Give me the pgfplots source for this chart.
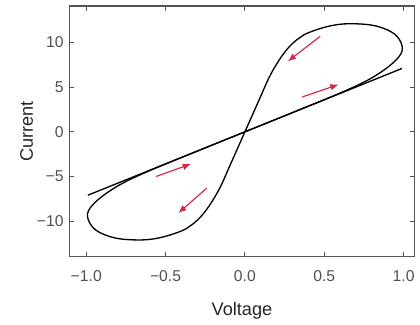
\documentclass[border=0pt]{standalone}
\usepackage{fontspec}
\setmainfont{Liberation Sans}
\usepackage{pgfplots}
\pgfplotsset{compat=1.18}
\usetikzlibrary{arrows.meta}
\definecolor{arr}{RGB}{212,40,70}
\definecolor{axg}{RGB}{85,85,85}
\definecolor{tkg}{RGB}{80,80,80}
\begin{document}
\begin{tikzpicture}
\begin{axis}[
  scale only axis,
  width=208.8pt, height=151.8pt,
  xmin=-1.106, xmax=1.069, ymin=-14, ymax=14.1,
  axis line style={axg, line width=0.7pt},
  tick style={axg, line width=0.7pt},
  major tick length=3pt,
  tick align=inside,
  xtick={-1,-0.5,0,0.5,1},
  xticklabels={−1.0,−0.5,0.0,0.5,1.0},
  ytick={-10,-5,0,5,10},
  yticklabels={−10,−5,0,5,10},
  ticklabel style={font=\fontsize{9.5}{11}\selectfont, text=tkg},
  xticklabel style={yshift=-4.5pt},
  xlabel={Voltage}, ylabel={Current},
  label style={font=\fontsize{11}{13}\selectfont, text=black!85},
  xlabel style={at={(axis description cs:0.5,-0.215)}, anchor=center},
  ylabel style={at={(axis description cs:-0.124,0.5)}, anchor=center},
  clip=false,
]
% straight line
\addplot[black, line width=0.8pt] coordinates {(-0.99,-7.1) (0.99,7.1)};
% hysteresis loop
\addplot[black, line width=0.8pt, smooth, tension=0.6] coordinates {
 (0,0) (0.05,2.0) (0.1,4.0) (0.15,6.0) (0.2,7.6) (0.25,8.9) (0.3,9.9) (0.35,10.6) (0.4,11.1)
 (0.5,11.7) (0.6,12.05) (0.7,12.1) (0.8,11.95) (0.88,11.55) (0.94,11.0) (0.975,10.3)
 (0.992,9.5) (0.985,8.8) (0.95,8.0) (0.89,7.1) (0.81,6.15) (0.72,5.3) (0.62,4.5) (0.5,3.6)
 (0.35,2.52) (0.18,1.29) (0,0)
 (-0.18,-1.29) (-0.35,-2.52) (-0.5,-3.6) (-0.62,-4.5) (-0.72,-5.3) (-0.81,-6.15)
 (-0.89,-7.1) (-0.95,-8.0) (-0.985,-8.8) (-0.992,-9.5) (-0.975,-10.3) (-0.94,-11.0) (-0.88,-11.55)
 (-0.8,-11.95) (-0.7,-12.1) (-0.6,-12.05) (-0.5,-11.7) (-0.4,-11.1) (-0.35,-10.6) (-0.3,-9.9)
 (-0.25,-8.9) (-0.2,-7.6) (-0.15,-6.0) (-0.1,-4.0) (-0.05,-2.0) (0,0)
};
% arrows
\addplot[arr, line width=0.7pt, -{Latex[length=5pt,width=4pt]}] coordinates {(0.475,10.7) (0.27,7.9)};
\addplot[arr, line width=0.7pt, -{Latex[length=5pt,width=4pt]}] coordinates {(0.36,3.9) (0.59,5.3)};
\addplot[arr, line width=0.7pt, -{Latex[length=5pt,width=4pt]}] coordinates {(-0.56,-5.0) (-0.34,-3.6)};
\addplot[arr, line width=0.7pt, -{Latex[length=5pt,width=4pt]}] coordinates {(-0.24,-6.3) (-0.42,-9.1)};
\end{axis}
\useasboundingbox (-42pt,-36.6pt) rectangle (210pt,155.4pt);
\end{tikzpicture}
\end{document}
